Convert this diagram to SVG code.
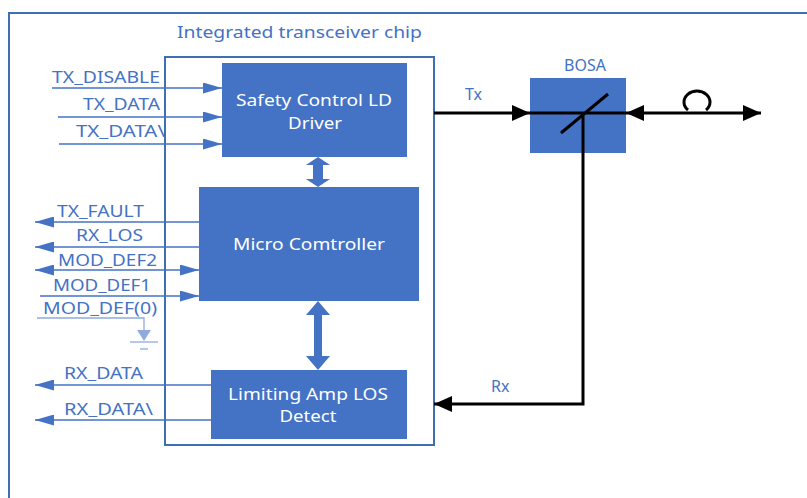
<svg xmlns="http://www.w3.org/2000/svg" width="807" height="498" viewBox="0 0 807 498">
<defs>
<style>
.frame{fill:none;stroke:#3E6FB5;stroke-width:2}
.box{fill:#4472C4}
.wt{fill:#ffffff;font-family:"Noto Sans","Open Sans",sans-serif;font-size:17px;text-anchor:middle}
.bt{fill:#4472C4;font-family:"Noto Sans","Open Sans",sans-serif;font-size:16px}
.sig{stroke:#4472C4;stroke-width:1.3;fill:none}
.blk{stroke:#000;stroke-width:3;fill:none}
.gnd{stroke:#8FAADC;stroke-width:1.3;fill:none}
</style>
<marker id="ba" viewBox="0 0 10 10" refX="10" refY="5" markerWidth="19" markerHeight="11" markerUnits="userSpaceOnUse" orient="auto-start-reverse" preserveAspectRatio="none"><path d="M0,0 L10,5 L0,10 z" fill="#4472C4"/></marker>
<marker id="ka" viewBox="0 0 10 10" refX="10" refY="5" markerWidth="18" markerHeight="16" markerUnits="userSpaceOnUse" orient="auto-start-reverse" preserveAspectRatio="none"><path d="M0,0 L10,5 L0,10 z" fill="#000"/></marker>
</defs>

<path class="frame" d="M9,498 L9,13 L807,13"/>

<g id="chip">
<rect class="frame" x="165" y="57" width="269" height="388"/>
<text class="bt" x="177" y="38" textLength="245" lengthAdjust="spacingAndGlyphs">Integrated transceiver chip</text>
</g>

<g id="safety">
<rect class="box" x="222" y="63" width="185" height="94"/>
<text class="wt" x="314" y="106" textLength="156" lengthAdjust="spacingAndGlyphs">Safety Control LD</text>
<text class="wt" x="315" y="129" textLength="54" lengthAdjust="spacingAndGlyphs">Driver</text>
</g>

<g id="micro">
<rect class="box" x="199" y="187" width="220" height="114"/>
<text class="wt" x="309" y="250" textLength="152" lengthAdjust="spacingAndGlyphs">Micro Comtroller</text>
</g>

<g id="limiting">
<rect class="box" x="211" y="370" width="196" height="69"/>
<text class="wt" x="308" y="400" textLength="160" lengthAdjust="spacingAndGlyphs">Limiting Amp LOS</text>
<text class="wt" x="308" y="422" textLength="57" lengthAdjust="spacingAndGlyphs">Detect</text>
</g>

<g id="bosa">
<rect class="box" x="530" y="78" width="96" height="75"/>
<text class="bt" x="585" y="71" text-anchor="middle">BOSA</text>
<line class="blk" x1="530" y1="113" x2="626" y2="113"/>
<line class="blk" x1="561" y1="133" x2="608" y2="94"/>
</g>

<g id="labels">
<text class="bt" x="52" y="83" textLength="108" lengthAdjust="spacingAndGlyphs">TX_DISABLE</text>
<text class="bt" x="83" y="110" textLength="77" lengthAdjust="spacingAndGlyphs">TX_DATA</text>
<text class="bt" x="76" y="137" textLength="89" lengthAdjust="spacingAndGlyphs">TX_DATA\</text>
<text class="bt" x="57" y="217" textLength="87" lengthAdjust="spacingAndGlyphs">TX_FAULT</text>
<text class="bt" x="76" y="241" textLength="67" lengthAdjust="spacingAndGlyphs">RX_LOS</text>
<text class="bt" x="58" y="266" textLength="99" lengthAdjust="spacingAndGlyphs">MOD_DEF2</text>
<text class="bt" x="53" y="291" textLength="98" lengthAdjust="spacingAndGlyphs">MOD_DEF1</text>
<text class="bt" x="43" y="314" textLength="114" lengthAdjust="spacingAndGlyphs">MOD_DEF(0)</text>
<text class="bt" x="64" y="379" textLength="79" lengthAdjust="spacingAndGlyphs">RX_DATA</text>
<text class="bt" x="64" y="415" textLength="89" lengthAdjust="spacingAndGlyphs">RX_DATA\</text>
<text class="bt" x="465" y="100" font-size="15">Tx</text>
<text class="bt" x="491" y="392" font-size="15">Rx</text>
</g>

<g id="connectors">
<line class="sig" x1="52" y1="88" x2="222" y2="88" marker-end="url(#ba)"/>
<line class="sig" x1="58" y1="117" x2="222" y2="117" marker-end="url(#ba)"/>
<line class="sig" x1="59" y1="144" x2="222" y2="144" marker-end="url(#ba)"/>
<line class="sig" x1="199" y1="222" x2="35" y2="222" marker-end="url(#ba)"/>
<line class="sig" x1="199" y1="247" x2="35" y2="247" marker-end="url(#ba)"/>
<line class="sig" x1="35" y1="270" x2="199" y2="270" marker-start="url(#ba)" marker-end="url(#ba)"/>
<line class="sig" x1="40" y1="296" x2="199" y2="296" marker-end="url(#ba)"/>
<line class="sig" x1="211" y1="385" x2="35" y2="385" marker-end="url(#ba)"/>
<line class="sig" x1="211" y1="420" x2="35" y2="420" marker-end="url(#ba)"/>
<polyline class="gnd" points="37,318 144,318 144,332"/>
<path d="M137,330 L151,330 L144,341 z" fill="#8FAADC"/>
<line class="gnd" x1="130" y1="342" x2="158" y2="342"/>
<line class="gnd" x1="140" y1="349" x2="148" y2="349"/>
<path class="box" d="M306,165 L318,157 L330,165 L323,165 L323,179 L330,179 L318,187 L306,179 L313,179 L313,165 z"/>
<path class="box" d="M306,315 L318,301 L330,315 L322,315 L322,356 L330,356 L318,370 L306,356 L314,356 L314,315 z"/>
<line class="blk" x1="434" y1="113" x2="530" y2="113" marker-end="url(#ka)"/>
<line class="blk" x1="626" y1="113" x2="761" y2="113" marker-start="url(#ka)" marker-end="url(#ka)"/>
<path d="M688,110 A13,11 0 1 1 706,110" fill="none" stroke="#000" stroke-width="3"/>
<polyline class="blk" points="583,113 583,404 434,404" marker-end="url(#ka)"/>
</g>
</svg>
